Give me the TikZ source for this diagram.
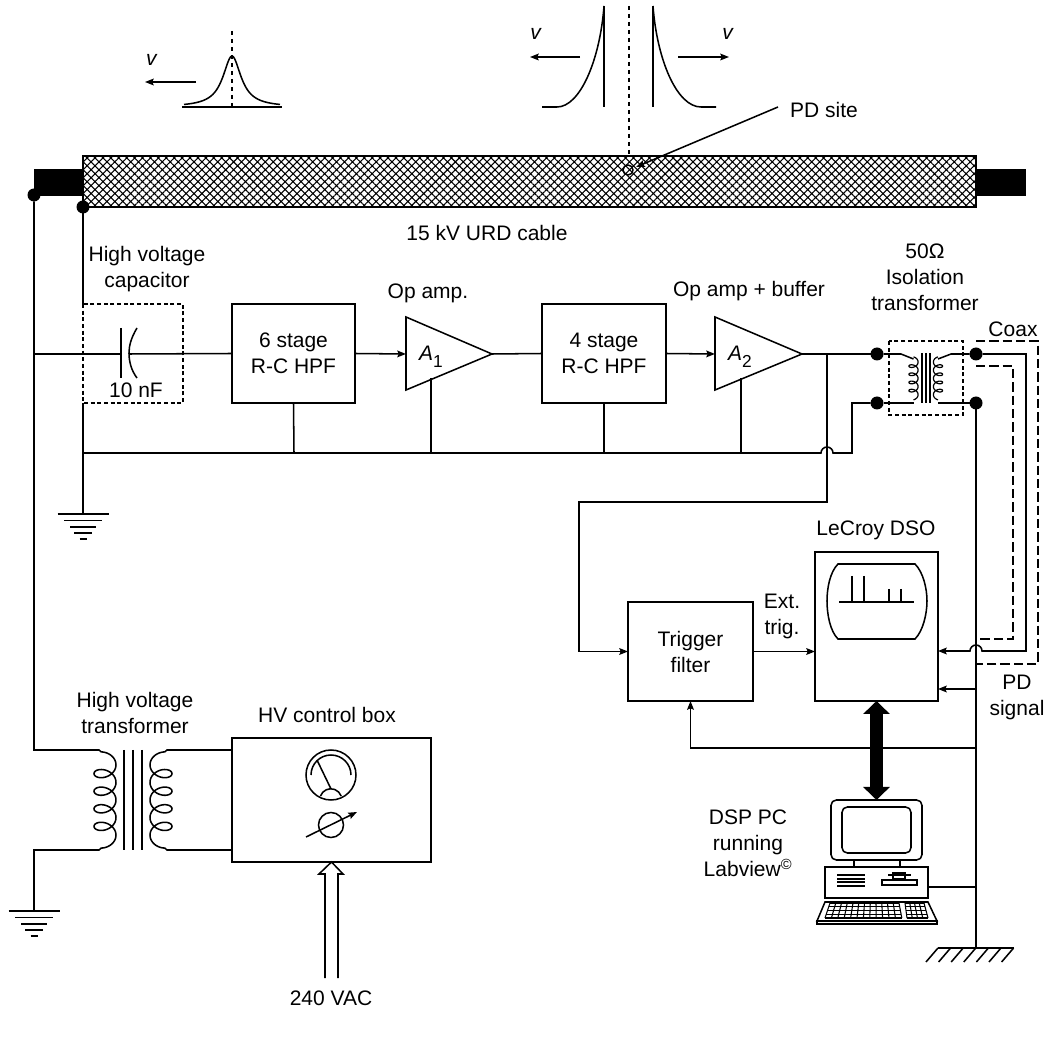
\documentclass[tikz,border=0pt]{standalone}
\usepackage{fontspec}
\setmainfont{Liberation Sans}
\usepackage{tikz}
\usetikzlibrary{arrows.meta,patterns.meta}
\def\px{0.75pt}
\tikzset{
  lbl/.style={align=center,inner sep=0pt,font=\fontsize{15.75}{19.5}\selectfont},
  blockbox/.style={draw,inner sep=0pt,outer sep=0pt,align=center,font=\fontsize{15.75}{19.5}\selectfont},
  dot/.style={circle,fill=black,inner sep=0pt,outer sep=0pt,minimum size=9.75pt},
  dashbox/.style={densely dashed},
  longdash/.style={dash pattern=on 7pt off 3pt},
  bigarrow/.style={line width=9.75pt,{Triangle[length=9.75pt,width=19.5pt]}-{Triangle[length=9.75pt,width=19.5pt]}},
  ground/.pic={
    \draw (-25.5,0) -- (25.5,0);
    \draw (-19,6.5) -- (19,6.5);
    \draw (-13,13) -- (13,13);
    \draw (-9,19) -- (9,19);
    \draw (-3.5,25) -- (3.5,25);
  }
}
\begin{document}
\begin{tikzpicture}[x=\px,y=-\px,line width=1.15pt,>={Stealth[length=6.5pt,width=5pt,inset=1pt]}]
  \useasboundingbox (0,0) rectangle (1051,1037);
  % pulses
  \draw (182,107) -- (282,107);
  \draw[smooth,samples=71,domain=-48:48] plot ({232+\x},{107-51/(1+(\x/11)^2)});
  \draw[dashed,line width=0.9pt] (232,31) -- (232,107);
  \draw[->] (196,82) -- (145,82);
  \node[lbl] (vleft) at (152,60) {\textit{v}};
  \draw (604,6) -- (604,107);
  \draw (653,6) -- (653,107);
  \draw[dashed,line width=0.9pt] (629,6) -- (629,155);
  \draw (604,6) .. controls (600,60) and (580,107) .. (557,107) -- (542,107);
  \draw (653,6) .. controls (657,60) and (677,107) .. (701,107) -- (716,107);
  \draw[->] (580,57) -- (530,57);
  \draw[->] (678,57) -- (729,57);
  \node[lbl] (vmid) at (536,34) {\textit{v}};
  \node[lbl] (vright) at (728,34) {\textit{v}};
  % cable
  \fill (34,169) rectangle (83,196);
  \fill (976,169) rectangle (1026,196);
  \draw[pattern={Hatch[angle=45,distance=4.2pt,line width=0.8pt]}] (83,156) rectangle (976,207);
  \node[dot] (shield) at (83,207) {};
  \node[dot] (core) at (34,195) {};
  \draw[line width=1.1pt] (628,170) circle (5);
  \node[lbl] (pdsite) at (824,110) {PD site};
  \draw[->] (778,107) -- (636,167);
  \node[lbl] (cablelbl) at (487,233) {15 kV URD cable};
  % signal chain
  \node[lbl] (caplbl) at (147,269) {High voltage\\capacitor};
  \draw[dashbox] (83,304) rectangle (183,403);
  \node[lbl] (capval) at (136,390) {10 nF};
  \coordinate (capl) at (121,354);
  \coordinate (capr) at (129,354);
  \draw (121,328) -- (121,378);
  \draw (137,328) .. controls (131,338) and (129,346) .. (129,353) .. controls (129,361) and (131,370) .. (137,378);
  \node[blockbox,minimum width=123*\px,minimum height=99*\px] (hpfsix) at (293.5,353.5) {6 stage\\R-C HPF};
  \node[blockbox,minimum width=124*\px,minimum height=99*\px] (hpffour) at (604,353.5) {4 stage\\R-C HPF};
  \draw (406,317) -- (492,354) -- (406,390) -- cycle;
  \draw (715,317) -- (802,354) -- (715,390) -- cycle;
  \coordinate (ampone) at (406,354);
  \coordinate (amponeout) at (492,354);
  \coordinate (amptwo) at (715,354);
  \coordinate (amptwoout) at (802,354);
  \node[lbl] (amponelbl) at (431,357) {\textit{A}\raisebox{-5pt}{\fontsize{13}{15}\selectfont 1}};
  \node[lbl] (amptwolbl) at (740,357) {\textit{A}\raisebox{-5pt}{\fontsize{13}{15}\selectfont 2}};
  \node[lbl] (opone) at (428,293) {Op amp.};
  \node[lbl] (optwo) at (749,291) {Op amp + buffer};
  \draw (34,354) -- (capl);
  \draw (capr) -- (hpfsix.west);
  \draw[->] (hpfsix.east) -- (ampone);
  \draw (amponeout) -- (hpffour.west);
  \draw[->] (hpffour.east) -- (amptwo);
  % ground bus
  \coordinate (busl) at (83,453);
  \draw (shield) -- (83,304);
  \draw (83,403) -- (busl) -- (83,514);
  \pic at (83,514) {ground};
  \draw (hpfsix.south) -- (294,453);
  \draw (hpffour.south) -- (604,453);
  \draw (431,378) -- (431,453);
  \draw (741,378) -- (741,453);
  % isolation transformer
  \node[lbl] (isolbl) at (925,277) {50Ω\\Isolation\\transformer};
  \draw[dashbox] (889,341) rectangle (963,415);
  \node[dot] (ina) at (877,354) {};
  \node[dot] (inb) at (877,403) {};
  \node[dot] (outa) at (976,354) {};
  \node[dot] (outb) at (976,403) {};
  \foreach \x in {922,926,930} \draw[line width=0.9pt] (\x,353) -- (\x,403);
  \draw[line width=0.9pt,smooth,samples=140,domain=-90:1530] plot ({913.5+4.6*cos(\x)},{360+1.3*\x*pi/180+2.04+3.1*sin(\x)});
  \draw[line width=0.9pt,smooth,samples=140,domain=-90:1530] plot ({938-4.6*cos(\x)},{360+1.3*\x*pi/180+2.04+3.1*sin(\x)});
  \draw (ina) -- (901,354) -- (913.5,359);
  \draw (inb) -- (913.5,403);
  \draw (outa) -- (951,354) -- (938,359);
  \draw (outb) -- (938,403);
  \draw (amptwoout) -- (ina);
  \draw (busl) -- (821,453) arc[start angle=180,end angle=360,radius=6] -- (852,453) |- (inb);
  % trigger and scope
  \node[blockbox,minimum width=125*\px,minimum height=99*\px] (trigger) at (690.5,651.5) {Trigger\\filter};
  \node[blockbox,minimum width=123*\px,minimum height=149*\px] (dso) at (876.5,626.5) {};
  \node[lbl] (dsolbl) at (876,530) {LeCroy DSO};
  \node[lbl] (extlbl) at (782,616) {Ext.\\trig.};
  \draw[->] (827,354) -- (827,502) -- (579,502) |- (trigger.west);
  \draw[->] (trigger.east) -- (dso.west |- trigger.east);
  \draw (838,564) -- (915,564) .. controls (923,572) and (927,588) .. (927,601) .. controls (927,614) and (923,631) .. (915,639) -- (838,639) .. controls (830,631) and (827,614) .. (827,601) .. controls (827,588) and (830,572) .. (838,564) -- cycle;
  \draw (839,602) -- (914,602);
  \foreach \x in {852,864} \draw (\x,576) -- (\x,602);
  \foreach \x in {889,901} \draw (\x,589) -- (\x,602);
  % coax and pd signal
  \coordinate (gndpt) at (976,948);
  \draw (outb) -- (gndpt);
  \draw[->] (outa) -- (1026,354) -- (1026,651) -- (982,651) arc[start angle=0,end angle=-180,radius=6] -- (dso.east |- 970,651);
  \draw[->] (976,689) -- (dso.east |- 976,689);
  \draw[->] (976,748) -| (trigger.south);
  \draw[longdash] (976,341) -- (1038,341) -- (1038,664) -- (976,664);
  \draw[longdash] (976,366) -- (1013,366) -- (1013,639) -- (976,639);
  \node[lbl] (coaxlbl) at (1013,329) {Coax};
  \node[lbl] (pdlbl) at (1017,697) {PD\\signal};
  % computer
  \node[draw,rounded corners=4pt,inner sep=0pt,outer sep=0pt,minimum width=91*\px,minimum height=60*\px] (monitor) at (876.5,830) {};
  \node[draw,rounded corners=4pt,inner sep=0pt,minimum width=69*\px,minimum height=46*\px] (pcscreen) at (876.5,830) {};
  \draw (854,860) rectangle (900,867);
  \node[draw,inner sep=0pt,outer sep=0pt,minimum width=103*\px,minimum height=31*\px] (pccase) at (876.5,882.5) {};
  \foreach \y in {875,879,882,886} \draw[line width=0.8pt] (837,\y) -- (865,\y);
  \draw (882,880) rectangle (917,885);
  \draw (888,875) -- (911,875);
  \draw (893,873) rectangle (905,879);
  \draw (825,902) -- (928,902) -- (937,921) -- (817,921) -- cycle;
  \draw (817,921) rectangle (937,924);
  \foreach \f in {0,0.25,0.5,0.75,1} {
    \draw[line width=0.8pt] ({830-5*\f},{903+15*\f}) -- ({899+3*\f},{903+15*\f});
    \draw[line width=0.8pt] ({905+2*\f},{903+15*\f}) -- ({924+4*\f},{903+15*\f});
  }
  \foreach \i in {0,...,12} \draw[line width=0.8pt] ({830+\i*5.75},903) -- ({825+\i*6.4},918);
  \foreach \i in {0,...,4} \draw[line width=0.8pt] ({905+\i*4.75},903) -- ({907+\i*5.25},918);
  \draw[bigarrow] (dso.south -| 876.5,701) -- (monitor.north);
  \node[lbl] (pclbl) at (748,843) {DSP PC\\running\\Labview\textsuperscript{©}};
  \draw (pccase.east |- 976,887) -- (976,887);
  \draw (938,948) -- (1014,948);
  \foreach \i in {0,...,6} \draw (938+\i*12.6,948) -- (926+\i*12.6,962);
  % hv supply
  \node[lbl] (hvtlbl) at (135,713) {High voltage\\transformer};
  \node[lbl] (hvboxlbl) at (327,715) {HV control box};
  \node[blockbox,minimum width=199*\px,minimum height=124*\px] (hvbox) at (331.5,800) {};
  \foreach \x in {124,133,142} \draw[line width=0.9pt] (\x,750) -- (\x,850);
  \draw (core) -- (34,750) -- (99,750) -- plot[smooth,samples=180,domain=-110:1550] ({105+11*cos(\x)},{764.8+2.8*\x*pi/180+8*sin(\x)}) -- (99,850) -- (34,850) -- (34,911);
  \pic at (34,911) {ground};
  \draw (hvbox.west |- 161,750) -- (167,750) -- plot[smooth,samples=180,domain=-110:1550] ({161-11*cos(\x)},{764.8+2.8*\x*pi/180+8*sin(\x)}) -- (167,850) -- (hvbox.west |- 161,850);
  \draw (331,775) circle (25);
  \draw (311,775) arc[start angle=180,end angle=360,radius=20];
  \draw (317,760) -- (331,789);
  \draw (320.5,796) arc[start angle=200,end angle=340,radius=11];
  \draw (331,825) circle (12.5);
  \draw[->] (306,837) -- (357,812);
  \draw (325,978) -- (325,874) -- (319,874) -- (hvbox.south) -- (343,874) -- (338,874) -- (338,978);
  \node[lbl] (vaclbl) at (331,998) {240 VAC};
\end{tikzpicture}
\end{document}
